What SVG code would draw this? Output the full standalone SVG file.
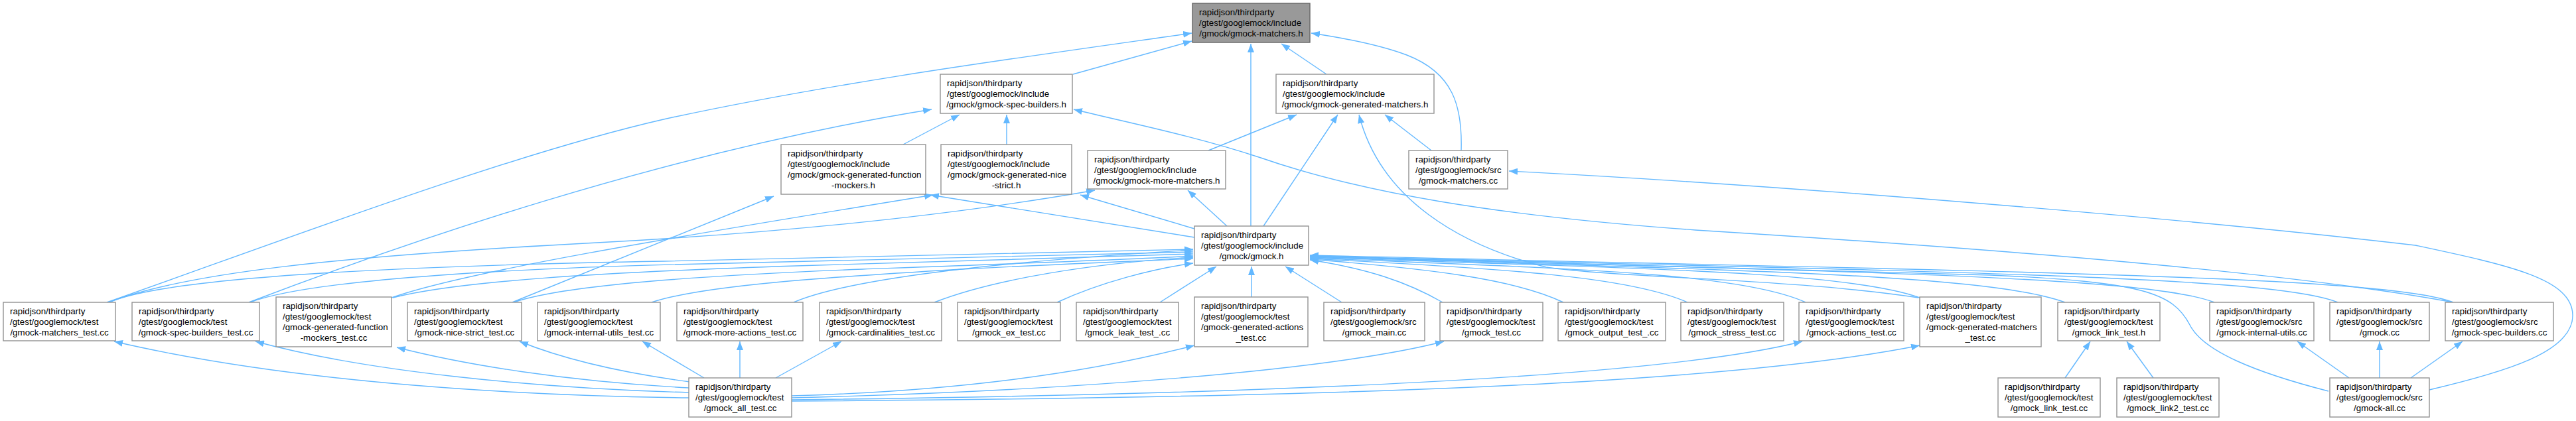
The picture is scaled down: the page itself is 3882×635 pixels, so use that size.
<svg xmlns="http://www.w3.org/2000/svg" width="3882" height="635" viewBox="0 0 3882 635">
<defs>
<style>
.n rect{fill:#ffffff;stroke:#929292;stroke-width:1.4}
.n.top rect{fill:#999999;stroke:#666666}
.n text{font-family:"Liberation Sans",Arial,Helvetica,sans-serif;font-size:13.33px;fill:#000000}
.n text.c{text-anchor:middle}
.e path{fill:none;stroke:#63b8ff;stroke-width:1.4;marker-end:url(#a)}
</style>
<marker id="a" markerUnits="userSpaceOnUse" markerWidth="13" markerHeight="10" viewBox="0 0 13 10" refX="13" refY="5" orient="auto">
<path d="M0,0 L13,5 L0,10 z" fill="#63b8ff"/>
</marker>
</defs>
<rect x="0" y="0" width="3882" height="635" fill="#ffffff"/>

<g id="edges" class="e">
<path d="M161,456 C420,365 760,235 1000,180 C1250,125 1550,85 1796,50"/>
<path d="M163,456 C280,412 500,387 900,366 C1200,350 1450,322 1650,287"/>
<path d="M165,456 C250,418 600,401 1000,394 C1300,389 1600,382 1798,376"/>
<path d="M375,456 C600,370 1000,230 1404,165"/>
<path d="M377,456 C470,420 800,403 1100,397 C1400,391 1650,385 1798,380"/>
<path d="M590,449 C700,410 1000,360 1406,294"/>
<path d="M592,449 C690,424 900,411 1200,401 C1500,393 1700,387 1798,383"/>
<path d="M772,456 L1166,296"/>
<path d="M774,456 C850,430 1050,416 1300,406 C1550,397 1720,391 1798,386"/>
<path d="M982,456 C1060,430 1250,418 1450,406 C1620,397 1740,393 1798,390"/>
<path d="M1196,456 C1280,420 1500,395 1798,377"/>
<path d="M1408,456 C1500,420 1650,397 1798,388"/>
<path d="M1593,456 C1660,425 1740,405 1798,397"/>
<path d="M1748,456 L1833,402"/>
<path d="M1886,448 L1886,402"/>
<path d="M2022,456 L1937,402"/>
<path d="M2174,456 C2120,425 2060,405 1974,392"/>
<path d="M2356,456 C2280,420 2150,405 1974,391"/>
<path d="M2543,456 C2450,415 2250,405 1974,390"/>
<path d="M2721,456 C2620,410 2350,405 1974,389"/>
<path d="M2893,449 C2780,408 2450,405 1974,388"/>
<path d="M3112,456 C2990,412 2600,408 1974,387"/>
<path d="M3337,456 C3230,415 2750,410 1974,386"/>
<path d="M3523,456 C3420,415 2900,410 1974,386"/>
<path d="M3697,456 C3590,415 3000,410 1974,385"/>
<path d="M3509,590 C3400,562 3320,530 3300,490 C3275,442 3230,425 3000,415 C2600,402 2200,395 1974,387"/>
<path d="M1617,112 L1796,62"/>
<path d="M1999,112 L1931,66"/>
<path d="M1885,341 L1885,66"/>
<path d="M2202,227 C2204,160 2190,110 2120,83 C2080,68 2030,58 1976,50"/>
<path d="M1361,218 L1446,173"/>
<path d="M1517,218 L1517,173"/>
<path d="M3697,456 C3450,410 3000,375 2555,347 C2250,325 2050,290 1900,238 C1800,205 1700,185 1618,165"/>
<path d="M1821,227 L1954,173"/>
<path d="M1904,341 L2016,173"/>
<path d="M2891,449 C2700,420 2450,420 2330,403 C2200,370 2080,300 2048,173"/>
<path d="M2157,227 L2087,173"/>
<path d="M1800,358 L1402,294"/>
<path d="M1800,345 L1628,294"/>
<path d="M1849,341 L1790,287"/>
<path d="M3661,588 C3780,560 3878,530 3877,475 C3876,420 3780,400 3640,370 C3300,330 2700,280 2274,258"/>
<path d="M1038,600 C800,597 450,580 172,515"/>
<path d="M1038,592 C800,585 550,560 385,515"/>
<path d="M1038,585 C850,575 700,550 598,524"/>
<path d="M1040,576 C920,560 840,538 783,515"/>
<path d="M1061,570 L968,515"/>
<path d="M1115,570 L1115,515"/>
<path d="M1169,570 L1268,515"/>
<path d="M1193,597 C1450,590 1650,560 1800,521"/>
<path d="M1193,600 C1600,590 2000,560 2176,515"/>
<path d="M1193,603 C1900,595 2500,570 2716,515"/>
<path d="M1193,605 C2000,600 2600,580 2893,521"/>
<path d="M3112,570 L3150,515"/>
<path d="M3245,570 L3205,515"/>
<path d="M3540,570 L3462,515"/>
<path d="M3586,570 L3586,515"/>
<path d="M3633,570 L3711,515"/>
</g>

<g id="n0" class="n top"><rect x="1797" y="5" width="177" height="59"/>
<text x="1807" y="23">rapidjson/thirdparty</text><text x="1807" y="39">/gtest/googlemock/include</text><text class="c" x="1885.5" y="55">/gmock/gmock-matchers.h</text></g>

<g id="n1" class="n"><rect x="1417" y="112" width="199" height="59"/>
<text x="1427" y="130">rapidjson/thirdparty</text><text x="1427" y="146">/gtest/googlemock/include</text><text class="c" x="1516.5" y="162">/gmock/gmock-spec-builders.h</text></g>

<g id="n2" class="n"><rect x="1923" y="112" width="238" height="59"/>
<text x="1933" y="130">rapidjson/thirdparty</text><text x="1933" y="146">/gtest/googlemock/include</text><text class="c" x="2042" y="162">/gmock/gmock-generated-matchers.h</text></g>

<g id="n3" class="n"><rect x="1177" y="218" width="218" height="75"/>
<text x="1187" y="236">rapidjson/thirdparty</text><text x="1187" y="252">/gtest/googlemock/include</text><text x="1187" y="268">/gmock/gmock-generated-function</text><text class="c" x="1286" y="284">-mockers.h</text></g>

<g id="n4" class="n"><rect x="1418" y="218" width="197" height="75"/>
<text x="1428" y="236">rapidjson/thirdparty</text><text x="1428" y="252">/gtest/googlemock/include</text><text x="1428" y="268">/gmock/gmock-generated-nice</text><text class="c" x="1516.5" y="284">-strict.h</text></g>

<g id="n5" class="n"><rect x="1639" y="227" width="208" height="58"/>
<text x="1649" y="244.5">rapidjson/thirdparty</text><text x="1649" y="260.5">/gtest/googlemock/include</text><text class="c" x="1743" y="276.5">/gmock/gmock-more-matchers.h</text></g>

<g id="n6" class="n"><rect x="2123" y="227" width="149" height="58"/>
<text x="2133" y="244.5">rapidjson/thirdparty</text><text x="2133" y="260.5">/gtest/googlemock/src</text><text class="c" x="2197.5" y="276.5">/gmock-matchers.cc</text></g>

<g id="n7" class="n"><rect x="1800" y="341" width="172" height="59"/>
<text x="1810" y="359">rapidjson/thirdparty</text><text x="1810" y="375">/gtest/googlemock/include</text><text class="c" x="1886" y="391">/gmock/gmock.h</text></g>

<g id="t1" class="n"><rect x="5" y="456" width="169" height="58"/>
<text x="15" y="473.5">rapidjson/thirdparty</text><text x="15" y="489.5">/gtest/googlemock/test</text><text class="c" x="89.5" y="505.5">/gmock-matchers_test.cc</text></g>

<g id="t2" class="n"><rect x="199" y="456" width="192" height="58"/>
<text x="209" y="473.5">rapidjson/thirdparty</text><text x="209" y="489.5">/gtest/googlemock/test</text><text class="c" x="295" y="505.5">/gmock-spec-builders_test.cc</text></g>

<g id="t3" class="n"><rect x="416" y="448" width="174" height="75"/>
<text x="426" y="466">rapidjson/thirdparty</text><text x="426" y="482">/gtest/googlemock/test</text><text x="426" y="498">/gmock-generated-function</text><text class="c" x="503" y="514">-mockers_test.cc</text></g>

<g id="t4" class="n"><rect x="614" y="456" width="172" height="58"/>
<text x="624" y="473.5">rapidjson/thirdparty</text><text x="624" y="489.5">/gtest/googlemock/test</text><text class="c" x="700" y="505.5">/gmock-nice-strict_test.cc</text></g>

<g id="t5" class="n"><rect x="810" y="456" width="185" height="58"/>
<text x="820" y="473.5">rapidjson/thirdparty</text><text x="820" y="489.5">/gtest/googlemock/test</text><text class="c" x="902.5" y="505.5">/gmock-internal-utils_test.cc</text></g>

<g id="t6" class="n"><rect x="1020" y="456" width="190" height="58"/>
<text x="1030" y="473.5">rapidjson/thirdparty</text><text x="1030" y="489.5">/gtest/googlemock/test</text><text class="c" x="1115" y="505.5">/gmock-more-actions_test.cc</text></g>

<g id="t7" class="n"><rect x="1235" y="456" width="184" height="58"/>
<text x="1245" y="473.5">rapidjson/thirdparty</text><text x="1245" y="489.5">/gtest/googlemock/test</text><text class="c" x="1327" y="505.5">/gmock-cardinalities_test.cc</text></g>

<g id="t8" class="n"><rect x="1443" y="456" width="155" height="58"/>
<text x="1453" y="473.5">rapidjson/thirdparty</text><text x="1453" y="489.5">/gtest/googlemock/test</text><text class="c" x="1520.5" y="505.5">/gmock_ex_test.cc</text></g>

<g id="t9" class="n"><rect x="1622" y="456" width="154" height="58"/>
<text x="1632" y="473.5">rapidjson/thirdparty</text><text x="1632" y="489.5">/gtest/googlemock/test</text><text class="c" x="1699" y="505.5">/gmock_leak_test_.cc</text></g>

<g id="t10" class="n"><rect x="1800" y="448" width="171" height="75"/>
<text x="1810" y="466">rapidjson/thirdparty</text><text x="1810" y="482">/gtest/googlemock/test</text><text x="1810" y="498">/gmock-generated-actions</text><text class="c" x="1885.5" y="514">_test.cc</text></g>

<g id="t11" class="n"><rect x="1995" y="456" width="152" height="58"/>
<text x="2005" y="473.5">rapidjson/thirdparty</text><text x="2005" y="489.5">/gtest/googlemock/src</text><text class="c" x="2071" y="505.5">/gmock_main.cc</text></g>

<g id="t12" class="n"><rect x="2170" y="456" width="155" height="58"/>
<text x="2180" y="473.5">rapidjson/thirdparty</text><text x="2180" y="489.5">/gtest/googlemock/test</text><text class="c" x="2247.5" y="505.5">/gmock_test.cc</text></g>

<g id="t13" class="n"><rect x="2348" y="456" width="162" height="58"/>
<text x="2358" y="473.5">rapidjson/thirdparty</text><text x="2358" y="489.5">/gtest/googlemock/test</text><text class="c" x="2429" y="505.5">/gmock_output_test_.cc</text></g>

<g id="t14" class="n"><rect x="2533" y="456" width="155" height="58"/>
<text x="2543" y="473.5">rapidjson/thirdparty</text><text x="2543" y="489.5">/gtest/googlemock/test</text><text class="c" x="2610.5" y="505.5">/gmock_stress_test.cc</text></g>

<g id="t15" class="n"><rect x="2711" y="456" width="158" height="58"/>
<text x="2721" y="473.5">rapidjson/thirdparty</text><text x="2721" y="489.5">/gtest/googlemock/test</text><text class="c" x="2790" y="505.5">/gmock-actions_test.cc</text></g>

<g id="t16" class="n"><rect x="2893" y="448" width="183" height="75"/>
<text x="2903" y="466">rapidjson/thirdparty</text><text x="2903" y="482">/gtest/googlemock/test</text><text x="2903" y="498">/gmock-generated-matchers</text><text class="c" x="2984.5" y="514">_test.cc</text></g>

<g id="t17" class="n"><rect x="3101" y="456" width="154" height="58"/>
<text x="3111" y="473.5">rapidjson/thirdparty</text><text x="3111" y="489.5">/gtest/googlemock/test</text><text class="c" x="3178" y="505.5">/gmock_link_test.h</text></g>

<g id="t18" class="n"><rect x="3330" y="456" width="157" height="58"/>
<text x="3340" y="473.5">rapidjson/thirdparty</text><text x="3340" y="489.5">/gtest/googlemock/src</text><text class="c" x="3408.5" y="505.5">/gmock-internal-utils.cc</text></g>

<g id="t19" class="n"><rect x="3511" y="456" width="150" height="58"/>
<text x="3521" y="473.5">rapidjson/thirdparty</text><text x="3521" y="489.5">/gtest/googlemock/src</text><text class="c" x="3586" y="505.5">/gmock.cc</text></g>

<g id="t20" class="n"><rect x="3685" y="456" width="163" height="58"/>
<text x="3695" y="473.5">rapidjson/thirdparty</text><text x="3695" y="489.5">/gtest/googlemock/src</text><text class="c" x="3766.5" y="505.5">/gmock-spec-builders.cc</text></g>

<g id="b1" class="n"><rect x="1038" y="570" width="155" height="59"/>
<text x="1048" y="588">rapidjson/thirdparty</text><text x="1048" y="604">/gtest/googlemock/test</text><text class="c" x="1115.5" y="620">/gmock_all_test.cc</text></g>

<g id="b2" class="n"><rect x="3011" y="570" width="154" height="59"/>
<text x="3021" y="588">rapidjson/thirdparty</text><text x="3021" y="604">/gtest/googlemock/test</text><text class="c" x="3088" y="620">/gmock_link_test.cc</text></g>

<g id="b3" class="n"><rect x="3190" y="570" width="154" height="59"/>
<text x="3200" y="588">rapidjson/thirdparty</text><text x="3200" y="604">/gtest/googlemock/test</text><text class="c" x="3267" y="620">/gmock_link2_test.cc</text></g>

<g id="b4" class="n"><rect x="3511" y="570" width="150" height="59"/>
<text x="3521" y="588">rapidjson/thirdparty</text><text x="3521" y="604">/gtest/googlemock/src</text><text class="c" x="3586" y="620">/gmock-all.cc</text></g>
</svg>
